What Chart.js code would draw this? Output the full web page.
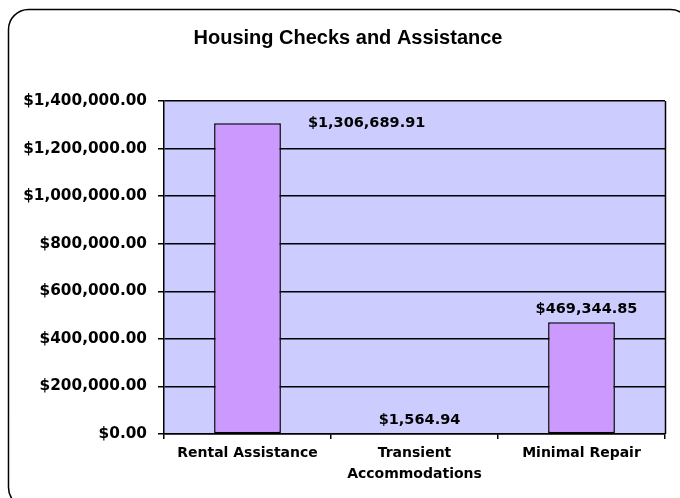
<!DOCTYPE html>
<html>
<head>
<meta charset="utf-8">
<script src="https://cdn.jsdelivr.net/npm/chart.js@4.4.1/dist/chart.umd.min.js"></script>
<style>
  html, body { margin: 0; padding: 0; background: #ffffff; }
  #wrap { width: 680px; height: 498px; }
</style>
</head>
<body>
<div id="wrap"><canvas id="c" width="680" height="498"></canvas></div>
<script>
const chartTitle = 'Housing Checks and Assistance';
const categories = ['Rental Assistance', ['Transient', 'Accommodations'], 'Minimal Repair'];
const amounts = [1306689.91, 1564.94, 469344.85];
const yMin = 0;
const yMax = 1400000;
const yStep = 200000;

function money(v) {
  return '$' + Number(v).toLocaleString('en-US', { minimumFractionDigits: 2, maximumFractionDigits: 2 });
}

const plotFrame = {
  id: 'plotFrame',
  beforeDraw(chart) {
    const { ctx, chartArea: a } = chart;
    ctx.save();
    ctx.strokeStyle = '#000';
    ctx.lineWidth = 1.5;
    ctx.beginPath();
    ctx.roundRect(8.5, 9.5, 682, 498, 20);
    ctx.stroke();
    ctx.fillStyle = '#CCCCFF';
    ctx.fillRect(a.left, a.top, a.right - a.left, a.bottom - a.top);
    // chart title
    ctx.fillStyle = '#000';
    ctx.font = 'bold 20px "Liberation Sans", Arial, sans-serif';
    ctx.textAlign = 'center';
    ctx.textBaseline = 'middle';
    ctx.fillText(chartTitle, 348, 38);
    ctx.restore();
  },
  afterDraw(chart) {
    const { ctx, chartArea: a } = chart;
    ctx.save();
    ctx.strokeStyle = '#000';
    ctx.lineWidth = 1.5;
    ctx.beginPath();
    ctx.moveTo(Math.round(a.right) + 0.5, a.top);
    ctx.lineTo(Math.round(a.right) + 0.5, a.bottom);
    ctx.stroke();
    ctx.restore();
  }
};

const valueLabels = {
  id: 'valueLabels',
  afterDatasetsDraw(chart) {
    const { ctx, chartArea: a } = chart;
    const meta = chart.getDatasetMeta(0);
    ctx.save();
    ctx.fillStyle = '#000';
    ctx.font = 'bold 14.5px "DejaVu Sans"';
    meta.data.forEach((bar, i) => {
      const txt = money(chart.data.datasets[0].data[i]);
      ctx.textBaseline = 'middle';
      if (bar.y - 26 < a.top) {
        ctx.textAlign = 'left';
        ctx.fillText(txt, bar.x + bar.width / 2 + 27, bar.y);
      } else {
        ctx.textAlign = 'center';
        ctx.fillText(txt, bar.x + 5, bar.y - 13);
      }
    });
    ctx.restore();
  }
};

new Chart(document.getElementById('c'), {
  type: 'bar',
  data: {
    labels: categories,
    datasets: [{
      data: amounts,
      backgroundColor: '#CC99FF',
      borderColor: '#000000',
      borderWidth: 1.5,
      borderSkipped: false,
      categoryPercentage: 1,
      barPercentage: 0.4
    }]
  },
  options: {
    responsive: false,
    animation: false,
    layout: { padding: { left: 4, right: 15, top: 101, bottom: 0 } },
    plugins: {
      legend: { display: false },
      tooltip: { enabled: false },
      title: { display: false }
    },
    scales: {
      x: {
        afterFit(s) { s.height = 64; },
        grid: { drawOnChartArea: false, offset: true, color: '#000', lineWidth: 1.5, tickLength: 5 },
        border: { display: true, color: '#000', width: 1.5 },
        ticks: {
          color: '#000',
          padding: 4,
          maxRotation: 0,
          autoSkip: false,
          font: { family: '"DejaVu Sans"', size: 14, weight: 'bold', lineHeight: 1.5 }
        }
      },
      y: {
        min: yMin,
        max: yMax,
        afterFit(s) { s.width = 160; },
        grid: { color: '#000', lineWidth: 1.5, tickLength: 6 },
        border: { display: true, color: '#000', width: 1.5 },
        ticks: {
          stepSize: yStep,
          color: '#000',
          padding: 11,
          font: { family: '"DejaVu Sans"', size: 15.3, weight: 'bold' },
          callback: (v) => money(v)
        }
      }
    }
  },
  plugins: [plotFrame, valueLabels]
});
</script>
</body>
</html>
